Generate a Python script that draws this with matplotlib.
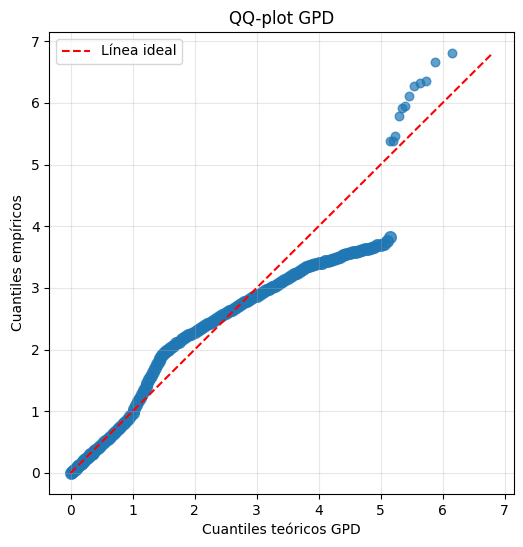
import numpy as np
import matplotlib
matplotlib.use("Agg")
import matplotlib.pyplot as plt

# Theoretical (GPD) quantiles and empirical quantiles read from the reference
# dense body of the distribution
theoretical_body = [
    0.00, 0.02, 0.04, 0.06, 0.08, 0.10, 0.12, 0.14, 0.16, 0.18, 0.20, 0.22, 0.24,
    0.26, 0.28, 0.30, 0.32, 0.34, 0.36, 0.38, 0.40, 0.44, 0.48,
    0.52, 0.56, 0.60, 0.64, 0.68, 0.72, 0.76, 0.80, 0.84, 0.88, 0.92, 0.96, 1.00,
    1.03, 1.06, 1.09, 1.12, 1.15, 1.18, 1.21, 1.24, 1.27, 1.30, 1.33, 1.36, 1.39,
    1.42, 1.45, 1.48, 1.51, 1.54, 1.57, 1.60,
    1.65, 1.70, 1.75, 1.80, 1.85, 1.90, 1.95, 2.00, 2.05, 2.10, 2.15, 2.20, 2.25,
    2.30, 2.35, 2.40, 2.45, 2.50, 2.55, 2.60, 2.65, 2.70, 2.75, 2.80, 2.85, 2.90,
    2.95, 3.00, 3.05, 3.10, 3.15, 3.20, 3.25, 3.30, 3.35, 3.40, 3.45, 3.50, 3.55,
    3.60, 3.65, 3.70, 3.75, 3.80, 3.85, 3.90, 3.95, 4.00, 4.05, 4.10, 4.15, 4.20,
    4.25, 4.30, 4.35, 4.40, 4.45, 4.50, 4.55, 4.60, 4.65, 4.70, 4.75, 4.80, 4.85,
    4.90, 4.95, 5.00, 5.05, 5.10, 5.15,
]
empirical_body = [
    0.00, 0.01, 0.03, 0.05, 0.07, 0.09, 0.11, 0.13, 0.15, 0.17, 0.19, 0.20, 0.22,
    0.24, 0.26, 0.28, 0.30, 0.31, 0.33, 0.35, 0.37, 0.41, 0.44,
    0.48, 0.52, 0.55, 0.59, 0.63, 0.67, 0.71, 0.75, 0.79, 0.83, 0.87, 0.92, 0.98,
    1.04, 1.10, 1.16, 1.22, 1.28, 1.34, 1.40, 1.46, 1.52, 1.58, 1.64, 1.70, 1.76,
    1.82, 1.87, 1.91, 1.95, 1.98, 2.00, 2.03,
    2.06, 2.10, 2.13, 2.17, 2.20, 2.23, 2.26, 2.29, 2.32, 2.35, 2.38, 2.41, 2.43,
    2.47, 2.50, 2.53, 2.56, 2.59, 2.62, 2.65, 2.68, 2.71, 2.74, 2.77, 2.79, 2.82,
    2.85, 2.87, 2.90, 2.93, 2.96, 2.99, 3.02, 3.04, 3.07, 3.10, 3.13, 3.16, 3.19,
    3.22, 3.25, 3.28, 3.31, 3.34, 3.36, 3.37, 3.39, 3.40, 3.41, 3.43, 3.44, 3.46,
    3.47, 3.49, 3.51, 3.53, 3.55, 3.57, 3.58, 3.59, 3.60, 3.61, 3.63, 3.64, 3.65,
    3.67, 3.69, 3.70, 3.72, 3.76, 3.82,
]
# sparse upper tail
theoretical_tail = [5.16, 5.20, 5.24, 5.29, 5.34, 5.40, 5.46, 5.54, 5.63, 5.73, 5.88, 6.15]
empirical_tail = [5.39, 5.39, 5.47, 5.79, 5.92, 5.95, 6.12, 6.28, 6.33, 6.36, 6.66, 6.81]

fig = plt.figure(figsize=(5.23, 5.47), dpi=100)
ax = fig.add_axes([0.0946, 0.0969, 0.888, 0.8446])

ax.scatter(theoretical_body, empirical_body, s=70, alpha=0.8, color="#1f77b4")
ax.scatter(theoretical_tail, empirical_tail, s=38, alpha=0.7, color="#1f77b4")

all_x = theoretical_body + theoretical_tail
all_y = empirical_body + empirical_tail
lo = min(min(all_x), min(all_y))
hi = max(max(all_x), max(all_y))
ax.plot([lo, hi], [lo, hi], "r--", label="Línea ideal")

ax.set_title("QQ-plot GPD")
ax.set_xlabel("Cuantiles teóricos GPD")
ax.set_ylabel("Cuantiles empíricos")
ax.legend(loc="upper left")
ax.grid(True, alpha=0.3)

fig.savefig("out.png", dpi=100)
